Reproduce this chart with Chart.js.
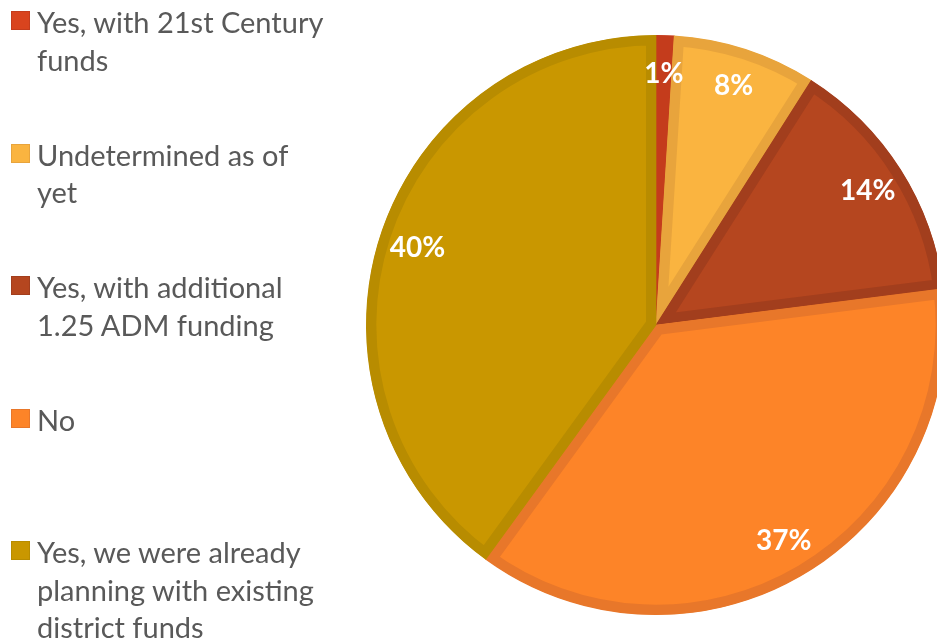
<!DOCTYPE html>
<html>
<head>
<meta charset="utf-8">
<script src="https://cdn.jsdelivr.net/npm/chart.js@4.4.1/dist/chart.umd.min.js"></script>
<style>
  html, body { margin: 0; padding: 0; background: #ffffff; }
  #frame { position: relative; width: 937px; height: 643px; overflow: hidden; }
  #chartBox { position: absolute; left: 0; top: 0; width: 960px; height: 643px; }
  #legend { position: absolute; left: 0; top: 0; width: 340px; height: 643px;
            font-family: Lato, "Open Sans", sans-serif; font-size: 29px; color: #595959; }
  .item { position: absolute; left: 11px; width: 330px; line-height: 37.5px; }
  .swatch { position: absolute; left: 0; top: 8px; width: 19px; height: 19px; }
  .label { margin-left: 26px; display: block; width: 292px; }
</style>
</head>
<body>
<div id="frame">
  <div id="chartBox"><canvas id="chart"></canvas></div>
  <div id="legend"></div>
</div>
<script>
// Survey answers, in drawing order (clockwise from 12 o'clock)
const categories = [
  "Yes, with 21st Century funds",
  "Undetermined as of yet",
  "Yes, with additional 1.25 ADM funding",
  "No",
  "Yes, we were already planning with existing district funds"
];
const percentages = [1, 8, 14, 37, 40];
const fillColors = ["#D9441E", "#FAB440", "#B5461F", "#FD8428", "#C99700"];
const edgeColors = ["#C43C1C", "#E8A43C", "#A23E1D", "#E8772A", "#B88C00"];

// Legend column on the left
const legendEl = document.getElementById("legend");
categories.forEach((name, i) => {
  const item = document.createElement("div");
  item.className = "item";
  item.style.top = (3 + i * 132.5) + "px";
  const sw = document.createElement("span");
  sw.className = "swatch";
  sw.style.background = fillColors[i];
  sw.style.border = "1px solid " + edgeColors[i];
  sw.style.boxSizing = "border-box";
  const tx = document.createElement("span");
  tx.className = "label";
  tx.textContent = name;
  item.appendChild(sw);
  item.appendChild(tx);
  legendEl.appendChild(item);
});

// Percent labels inside each slice
const sliceLabels = {
  id: "sliceLabels",
  afterDatasetsDraw(chart) {
    const ctx = chart.ctx;
    const meta = chart.getDatasetMeta(0);
    ctx.save();
    ctx.fillStyle = "#ffffff";
    ctx.font = "bold 28px Lato, 'Open Sans', sans-serif";
    ctx.textAlign = "center";
    ctx.textBaseline = "middle";
    meta.data.forEach((arc, i) => {
      const p = arc.getProps(["x", "y", "startAngle", "endAngle", "outerRadius"], true);
      const mid = (p.startAngle + p.endAngle) / 2;
      const r = p.outerRadius * 0.865;
      ctx.fillText(percentages[i] + "%", p.x + Math.cos(mid) * r, p.y + Math.sin(mid) * r);
    });
    ctx.restore();
  }
};

new Chart(document.getElementById("chart"), {
  type: "pie",
  data: {
    labels: categories,
    datasets: [{
      data: percentages,
      backgroundColor: fillColors,
      borderColor: edgeColors,
      borderWidth: 10,
      borderAlign: "inner"
    }]
  },
  options: {
    responsive: true,
    maintainAspectRatio: false,
    animation: false,
    layout: { padding: { left: 366, right: 14, top: 35, bottom: 28 } },
    plugins: {
      legend: { display: false },
      tooltip: { enabled: false }
    }
  },
  plugins: [sliceLabels]
});
</script>
</body>
</html>
